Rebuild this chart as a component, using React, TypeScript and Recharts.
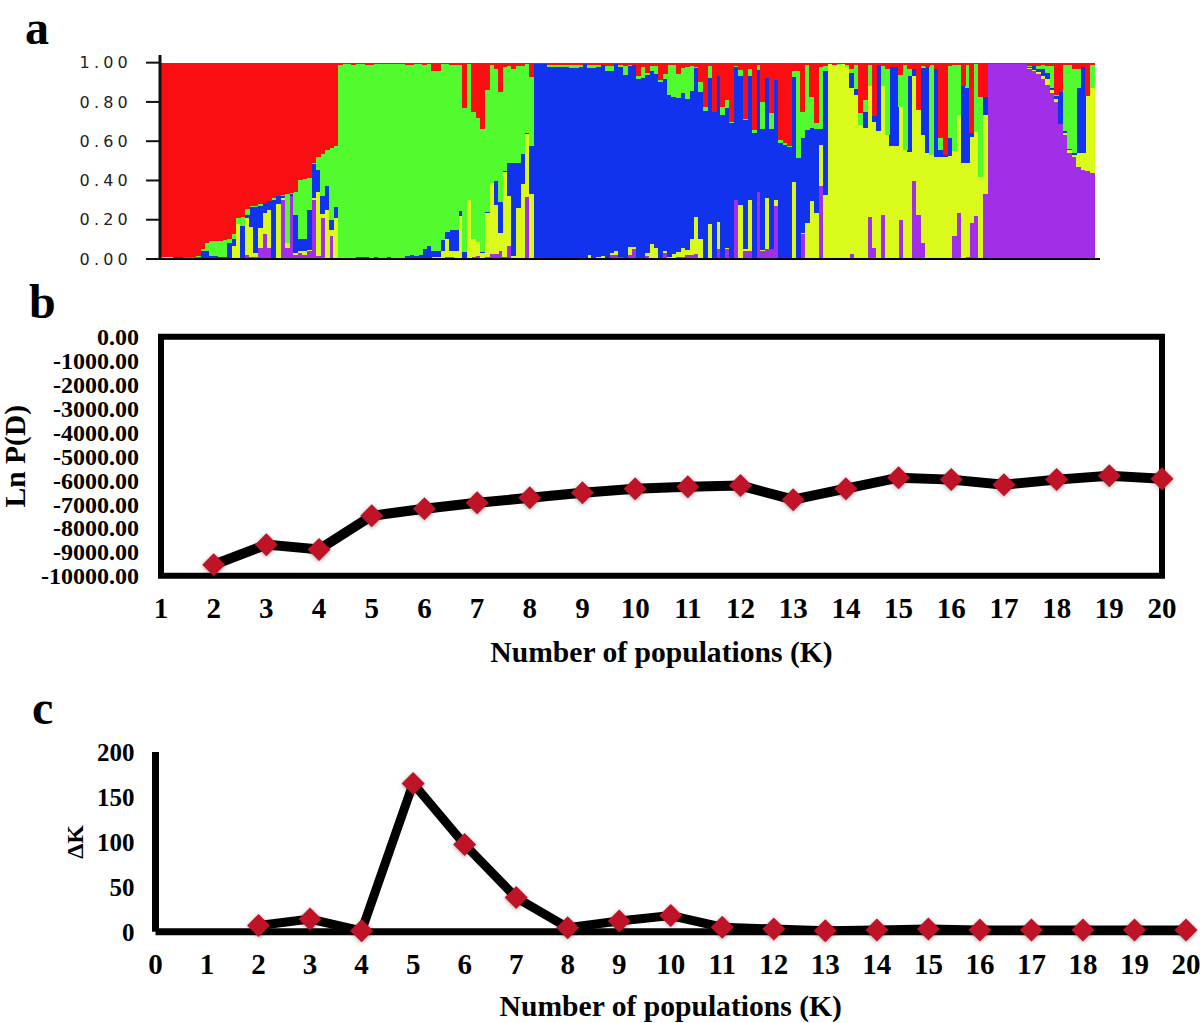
import React from "react";
import { BarChart, Bar, LineChart, Line, XAxis, YAxis, ReferenceArea } from "recharts";

const SERIF = '"Liberation Serif", serif';

// panel a: upper edge of each colour band per individual
const purpleTop = [
  0, 0, 0, 0, .005, .01, .01, .01, .01,
  0, 0, 0, 0, 0, 0, 0, 0, 0, 0,
  .02, .01, .01, .055, .125, .055, 0, 0, .3, .055,
  .32, .02, .03, .02, .04, .3, .015, .21, .005, .115,
  0, 0, 0, 0, 0, 0, 0, 0, 0, 0,
  0, 0, 0, 0, 0, 0, .005, .005, 0, 0,
  0, 0, 0, 0, 0, .01, .01, .005, .005, 0,
  0, .01, .015, .005, .01, .025, .025, .04, .01, .065,
  0, 0, 0, .315, 0, 0, 0, 0, 0, 0,
  0, 0, 0, 0, 0, 0, 0, .005, 0, .005,
  .005, 0, .02, .02, .01, 0, .02, .05, 0, 0,
  .015, 0, 0, 0, .03, 0, 0, .01, .01, .02,
  .02, .025, 0, 0, 0, 0, .05, 0, .05, 0,
  .3, 0, .04, .04, 0, .34, .04, .05, .05, .27,
  0, 0, 0, 0, 0, .125, 0, 0, 0, .37,
  0, 0, 0, 0, 0, 0, .025, 0, 0, 0,
  .215, .055, 0, .225, 0, 0, 0, .2, 0, 0,
  .395, .225, .08, 0, 0, 0, 0, 0, 0, .115,
  .235, 0, .01, .185, .22, 0, .33, .995, .995, .995,
  .995, .995, .995, .995, .995, .995, .97, .955, .94, .915,
  .885, .845, .8, .69, .63, .54, .52, .47, .455, .45,
  .44,
];
const yellowTop = [
  0, .01, .01, 0, .005, .01, .01, .01, .01,
  0, 0, 0, 0, 0, 0, 0, .065, .18, 0,
  .21, .165, .03, .16, .235, .25, 0, .28, .31, .08,
  .32, .03, .04, .04, .045, .31, .34, .23, .25, .15,
  .21, 0, 0, 0, 0, 0, 0, 0, 0, 0,
  0, 0, 0, 0, 0, 0, .005, .005, .005, .005,
  .005, .005, .01, .01, .04, .1, .04, .04, .22, 0,
  .3, .1, .085, .03, .235, .385, .275, .13, .445, .32,
  .015, .26, .38, .635, .33, 0, 0, 0, 0, 0,
  0, 0, 0, 0, 0, 0, 0, .02, 0, .01,
  .015, 0, .03, .04, .01, 0, .06, .06, 0, 0,
  .03, .075, .055, 0, .04, .01, .025, .035, .055, .045,
  .1, .215, .1, 0, .18, 0, .19, 0, .055, 0,
  .3, .275, .05, .3, 0, .34, .045, .31, .05, .3,
  0, 0, 0, .39, 0, .13, .185, .295, .235, .58,
  .325, .995, .99, .99, .995, .98, .87, .835, .68, .665,
  .88, .7, .65, .88, .63, .575, .575, .775, .555, .545,
  .93, .76, .63, .54, .53, .52, .52, .52, .525, .55,
  .735, .49, .49, .62, .645, .42, .735, .995, .995, .995,
  .995, .995, .995, .995, .995, .995, .975, .965, .95, .93,
  .915, .86, .815, .69, .64, .555, .53, .54, .54, .83,
  .87,
];
const blueTop = [
  .005, .01, .01, .01, .01, .01, .01, .01, .01,
  .04, .04, .015, .015, .01, .01, .08, .1, .18, .17,
  .225, .265, .265, .27, .285, .295, .3, .32, .32, .08,
  .33, .225, .1, .1, .25, .485, .455, .32, .37, .2,
  .265, .005, .005, .005, .005, .01, .01, .01, 0, .01,
  0, 0, .01, 0, 0, .005, .015, .02, .015, .02,
  .05, .065, .04, .04, .095, .135, .15, .15, .245, .035,
  .3, .1, .085, .035, .24, .385, .395, .29, .45, .49,
  .49, .49, .535, .64, .575, .995, .995, .995, .98, .98,
  .98, .98, .98, .975, .975, .98, .995, .975, .975, .98,
  .99, .96, .96, .995, .98, .935, .985, .99, .915, .92,
  .935, .96, .94, .9, .915, .835, .825, .82, .845, .815,
  .855, .975, .85, .755, .92, .75, .93, .735, .77, .695,
  .98, .93, .71, .93, .64, .965, .66, .92, .66, .91,
  .59, .58, .57, .925, .515, .615, .655, .665, .66, .66,
  .955, .995, .99, .99, .995, .98, .945, .865, .68, .75,
  .88, .73, .99, .88, .63, .98, .98, .775, .555, .93,
  .97, .76, .975, .98, .53, .97, .555, .53, .615, .55,
  .735, .88, .87, .64, .645, .42, .825, .995, .995, .995,
  .995, .995, .995, .995, .995, .995, .98, .985, .97, .97,
  .945, .87, .83, .85, .65, .56, .54, .87, .98, .83,
  .87,
];
const greenTop = [
  .01, .01, .01, .01, .01, .01, .01, .01, .015,
  .05, .08, .09, .09, .09, .095, .1, .125, .21, .215,
  .255, .27, .27, .28, .285, .295, .31, .32, .325, .33,
  .335, .34, .4, .405, .41, .49, .52, .535, .555, .565,
  .575, .99, .995, .995, .99, .995, .995, .99, .99, .995,
  .995, .995, .995, .995, .995, .995, .99, .99, .995, .995,
  .99, .995, .96, .96, .995, .995, .99, .99, .99, .77,
  .995, .75, .72, .66, .86, .99, .97, .85, .98, .985,
  .97, .985, .985, .995, .925, .995, .995, .995, .99, .99,
  .99, .99, .99, .99, .99, .99, .995, .99, .99, .99,
  .99, .985, .985, .995, .99, .985, .99, .99, .93, .98,
  .945, .985, .985, .91, .94, .99, .99, .94, .975, .98,
  .985, .98, .9, .775, .985, .75, .93, .775, .81, .7,
  .985, .965, .715, .97, .655, .99, .8, .92, .745, .91,
  .605, .59, .575, .96, .96, .75, .99, .825, .695, .98,
  .985, .995, .99, .995, .995, .99, .97, .99, .745, .81,
  .99, .73, .99, .985, .97, .98, .98, .935, .99, .97,
  .97, .76, .985, .98, .99, .97, .615, .53, .985, .99,
  .99, .88, .99, .64, .995, .825, .825, .995, .995, .995,
  .995, .995, .995, .995, .995, .995, .985, .985, .985, .99,
  .985, .985, .835, .85, .99, .99, .97, .97, .98, .83,
  .99,
];
const proportionTicks = [0, 0.2, 0.4, 0.6, 0.8, 1];

// panel b
const lnKValues = [2, 3, 4, 5, 6, 7, 8, 9, 10, 11, 12, 13, 14, 15, 16, 17, 18, 19, 20];
const lnP = [-9540, -8700, -8900, -7490, -7200, -6950, -6740, -6530, -6360, -6280, -6230, -6820, -6360, -5900, -5980, -6190, -5980, -5820, -5940];
const lnTicks = [0, -1000, -2000, -3000, -4000, -5000, -6000, -7000, -8000, -9000, -10000];
const lnXTicks = [1, ...lnKValues];

// panel c
const deltaK = [7, 14, 1, 165, 97, 38, 4.5, 12, 18, 5, 3, 1, 2, 3, 2, 2, 2, 2, 2];
const deltaTicks = [0, 50, 100, 150, 200];
const deltaXTicks = [0, 1, ...lnKValues];

const ancestry = greenTop.map((g, i) => {
  const p = purpleTop[i];
  const y = Math.max(p, yellowTop[i]);
  const b = Math.max(y, blueTop[i]);
  const gr = Math.max(b, g);
  return { id: i, purple: p, yellow: y - p, blue: b - y, green: gr - b, red: 1 - gr };
});
const lnData = lnKValues.map((k, i) => ({ k, value: lnP[i] }));
const deltaData = lnKValues.map((k, i) => ({ k, value: deltaK[i] }));

const bands = [
  { key: "purple", color: "#a22fe8" },
  { key: "yellow", color: "#dafa1c" },
  { key: "blue", color: "#1133ee" },
  { key: "green", color: "#52fb2e" },
  { key: "red", color: "#fb0d12" },
];

// recharts floors the band width, so widen each bar a bit to close the seams
function SeamlessBar(props: any) {
  const { x, y, width, height, fill } = props;
  if (!height) return null;
  return <rect x={x} y={y} width={width + 1} height={height} fill={fill} shapeRendering="crispEdges" />;
}

function Diamond(props: any) {
  const { cx, cy, index } = props;
  const r = 11.5;
  return (
    <polygon
      key={index}
      points={`${cx},${cy - r} ${cx + r},${cy} ${cx},${cy + r} ${cx - r},${cy}`}
      fill="#bf1428"
      style={{ filter: "drop-shadow(0 1px 2px rgba(0,0,0,0.35))" }}
    />
  );
}

const Letter = ({ text, left, top }: { text: string; left: number; top: number }) => (
  <div style={{ position: "absolute", left, top, font: `bold 48px/1 ${SERIF}`, color: "#000" }}>{text}</div>
);

const tickStyle = { fontFamily: SERIF, fontWeight: "bold", fill: "#000" };

export default function App() {
  return (
    <div style={{ position: "absolute", left: 0, top: 0, width: 1200, height: 1023, background: "#fff", overflow: "hidden" }}>
      <Letter text="a" left={25} top={4} />
      <Letter text="b" left={29} top={278} />
      <Letter text="c" left={32} top={684} />

      <div style={{ position: "absolute", left: 0, top: 0 }}>
        <BarChart width={1200} height={280} data={ancestry} barCategoryGap={0} margin={{ top: 55, right: 100, left: 0, bottom: 20 }}>
          <XAxis dataKey="id" tick={false} tickLine={false} height={1} padding={{ left: 0, right: 6 }} axisLine={{ stroke: "#000", strokeWidth: 2 }} />
          <YAxis
            width={160}
            domain={[0, 1.039]}
            ticks={proportionTicks}
            interval={0}
            tickFormatter={(v: number) => v.toFixed(2)}
            tickSize={14}
            tickMargin={14}
            tickLine={{ stroke: "#111", strokeWidth: 2 }}
            axisLine={{ stroke: "#111", strokeWidth: 3 }}
            tick={{ fontFamily: "DejaVu Sans", fontSize: 16, fill: "#222", letterSpacing: 4.2 }}
          />
          {bands.map((b) => (
            <Bar key={b.key} dataKey={b.key} stackId="q" fill={b.color} isAnimationActive={false} shape={<SeamlessBar />} />
          ))}
        </BarChart>
      </div>

      <div style={{ position: "absolute", left: 0, top: 300 }}>
        <LineChart width={1200} height={370} data={lnData} margin={{ top: 36.7, right: 38, left: 0, bottom: 0 }}>
          <XAxis
            dataKey="k"
            type="number"
            domain={[1, 20]}
            ticks={lnXTicks}
            interval={0}
            height={94.3}
            tickSize={0}
            tickMargin={22}
            axisLine={false}
            tick={{ ...tickStyle, fontSize: 29 }}
            label={{ value: "Number of populations (K)", position: "insideBottom", offset: 8, style: { ...tickStyle, fontSize: 29.6 } }}
          />
          <YAxis
            width={161}
            domain={[-10000, 0]}
            ticks={lnTicks}
            interval={0}
            tickFormatter={(v: number) => v.toFixed(2)}
            tickSize={0}
            tickMargin={22}
            axisLine={false}
            tick={{ ...tickStyle, fontSize: 24 }}
            label={{ value: "Ln P(D)", angle: -90, position: "insideLeft", offset: 15, style: { ...tickStyle, fontSize: 29.5, textAnchor: "middle" } }}
          />
          <ReferenceArea x1={1} x2={20} y1={-10000} y2={0} fill="none" stroke="#000" strokeWidth={6} ifOverflow="visible" />
          <Line dataKey="value" stroke="#000" strokeWidth={10} dot={<Diamond />} isAnimationActive={false} />
        </LineChart>
      </div>

      <div style={{ position: "absolute", left: 0, top: 700 }}>
        <LineChart width={1200} height={323} data={deltaData} margin={{ top: 52, right: 14, left: 0, bottom: 0 }}>
          <XAxis
            dataKey="k"
            type="number"
            domain={[0, 20]}
            ticks={deltaXTicks}
            interval={0}
            height={91.3}
            tickSize={0}
            tickMargin={22}
            axisLine={{ stroke: "#000", strokeWidth: 7 }}
            tick={{ ...tickStyle, fontSize: 29 }}
            label={{ value: "Number of populations (K)", position: "insideBottom", offset: 7, style: { ...tickStyle, fontSize: 29.6 } }}
          />
          <YAxis
            width={155.5}
            domain={[0, 200]}
            ticks={deltaTicks}
            interval={0}
            tickSize={0}
            tickMargin={21}
            axisLine={{ stroke: "#000", strokeWidth: 7 }}
            tick={{ ...tickStyle, fontSize: 25 }}
            label={{ value: "ΔK", angle: -90, position: "insideLeft", offset: 74, style: { ...tickStyle, fontSize: 24, textAnchor: "middle" } }}
          />
          <Line dataKey="value" stroke="#000" strokeWidth={9} dot={<Diamond />} isAnimationActive={false} />
        </LineChart>
      </div>
    </div>
  );
}
